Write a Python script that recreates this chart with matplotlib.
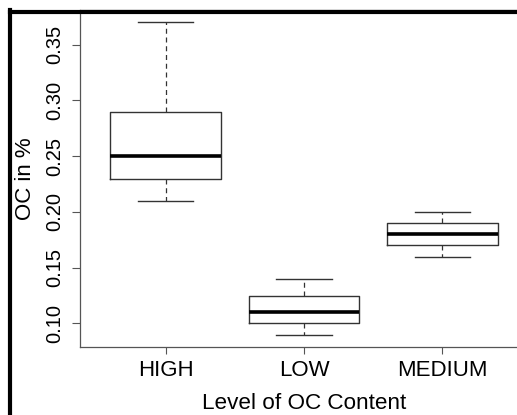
import matplotlib
matplotlib.use("Agg")
import matplotlib.pyplot as plt
from matplotlib.lines import Line2D

plt.rcParams['font.family'] = ['Liberation Sans', 'DejaVu Sans']

# values
levels = ['HIGH', 'LOW', 'MEDIUM']
whis_low = [0.21, 0.09, 0.16]
q1 = [0.23, 0.10, 0.17]
medians = [0.25, 0.11, 0.18]
q3 = [0.29, 0.125, 0.19]
whis_high = [0.37, 0.14, 0.20]

stats = []
for i, name in enumerate(levels):
    stats.append({'label': name, 'whislo': whis_low[i], 'q1': q1[i],
                  'med': medians[i], 'q3': q3[i], 'whishi': whis_high[i],
                  'fliers': []})

W, H = 517, 415
fig = plt.figure(figsize=(W / 100, H / 100), dpi=100)
ax = fig.add_axes([80 / W, 1 - 347 / H, 448 / W, 337 / H])

edge = '#333333'
ax.bxp(stats, positions=[1, 2, 3], widths=0.8, capwidths=0.4,
       showfliers=False, patch_artist=False,
       boxprops=dict(color=edge, linewidth=1.0),
       medianprops=dict(color='black', linewidth=2.6, solid_capstyle='butt'),
       whiskerprops=dict(color=edge, linewidth=0.9, linestyle=(0, (4, 3))),
       capprops=dict(color=edge, linewidth=1.0))

ax.set_xlim(0.38, 3.62)
ax.set_ylim(0.0788, 0.3812)
ax.set_yticks([0.10, 0.15, 0.20, 0.25, 0.30, 0.35])
ax.set_yticklabels(['0.10', '0.15', '0.20', '0.25', '0.30', '0.35'],
                   rotation=90, va='center', fontsize=14.5)
ax.set_xticks([1, 2, 3])
ax.set_xticklabels(levels, fontsize=16)
ax.tick_params(axis='y', length=6, width=0.8, color='#555555', pad=5)
ax.tick_params(axis='x', length=5, width=0.8, color='#555555', pad=4)
for s in ax.spines.values():
    s.set_color('#555555')
    s.set_linewidth(0.9)

ax.set_xlabel('Level of OC Content', fontsize=16.2, labelpad=9)
ax.set_ylabel('OC in %', fontsize=16, labelpad=7)

# thick frame visible at the top and left edge of the picture
fig.add_artist(Line2D([10 / W, 10 / W], [0, 1 - 10 / H], transform=fig.transFigure,
                      color='black', linewidth=3, solid_capstyle='projecting'))
fig.add_artist(Line2D([10 / W, 1], [1 - 12 / H, 1 - 12 / H], transform=fig.transFigure,
                      color='black', linewidth=3, solid_capstyle='projecting'))

fig.savefig('out.png', dpi=100)
